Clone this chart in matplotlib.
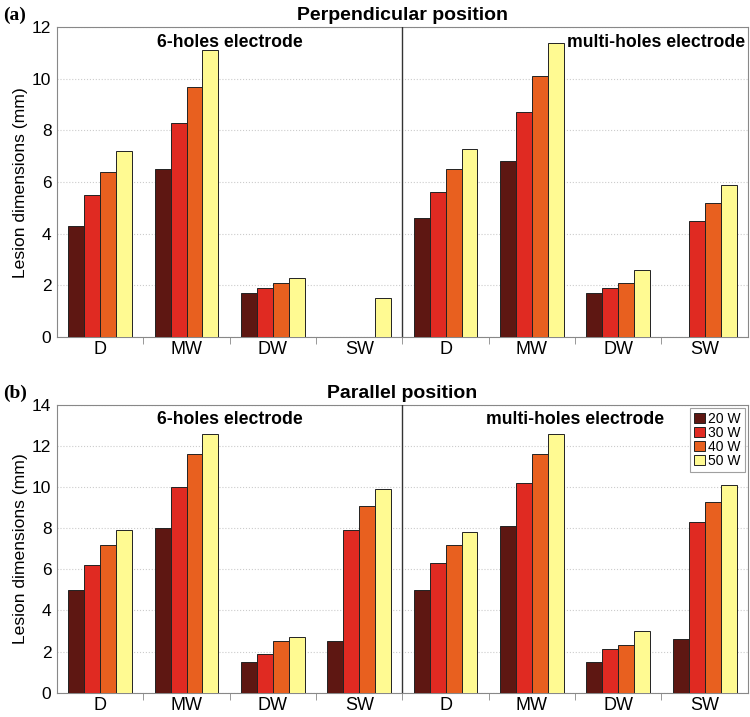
import numpy as np
import matplotlib.pyplot as plt

plt.rcParams['font.family'] = ['Liberation Sans', 'DejaVu Sans']

categories = ["D", "MW", "DW", "SW", "D", "MW", "DW", "SW"]
powers = ["20 W", "30 W", "40 W", "50 W"]
colors = ["#5e1712", "#e02a22", "#e8601f", "#fffa92"]

# perpendicular position: 6-holes (first 4) then multi-holes (last 4)
perp_20 = [4.3, 6.5, 1.7, 0.0, 4.6, 6.8, 1.7, 0.0]
perp_30 = [5.5, 8.3, 1.9, 0.0, 5.6, 8.7, 1.9, 4.5]
perp_40 = [6.4, 9.7, 2.1, 0.0, 6.5, 10.1, 2.1, 5.2]
perp_50 = [7.2, 11.1, 2.3, 1.5, 7.3, 11.4, 2.6, 5.9]

# parallel position
par_20 = [5.0, 8.0, 1.5, 2.5, 5.0, 8.1, 1.5, 2.6]
par_30 = [6.2, 10.0, 1.9, 7.9, 6.3, 10.2, 2.1, 8.3]
par_40 = [7.2, 11.6, 2.5, 9.1, 7.2, 11.6, 2.3, 9.3]
par_50 = [7.9, 12.6, 2.7, 9.9, 7.8, 12.6, 3.0, 10.1]

fig = plt.figure(figsize=(7.5, 7.17), dpi=100)
ax1 = fig.add_axes([0.076, 0.530, 0.921, 0.432])
ax2 = fig.add_axes([0.076, 0.034, 0.921, 0.401])


def draw_panel(ax, series, ymax, title, label):
    x = np.arange(len(categories))
    w = 0.185
    for i, vals in enumerate(series):
        ax.bar(x + (i - 1.5) * w, vals, w, color=colors[i],
               edgecolor="#222222", linewidth=0.7, label=powers[i], zorder=3)
    ax.set_xlim(-0.5, len(categories) - 0.5)
    ax.set_ylim(0, ymax)
    ax.set_yticks(np.arange(0, ymax + 1, 2))
    ax.set_xticks(x)
    ax.set_xticklabels(categories, fontsize=13)
    ax.set_xticks(np.arange(0.5, len(categories) - 0.5), minor=True)
    ax.tick_params(axis="x", which="major", length=0, pad=3)
    ax.tick_params(axis="x", which="minor", length=5, color="#888888",
                   direction="out")
    ax.tick_params(axis="y", labelsize=12.5, length=0, pad=4)
    ax.grid(axis="y", color="#cccccc", linestyle=":", linewidth=0.8, zorder=0)
    for s in ax.spines.values():
        s.set_color("#888888")
    ax.axvline(3.5, color="#333333", linewidth=1.0, zorder=4)
    ax.set_ylabel("Lesion dimensions (mm)", fontsize=12.6, labelpad=3)
    ax.text(0.5, 1.01, title, transform=ax.transAxes, ha="center",
            va="bottom", fontsize=14, fontweight="bold")
    ax.text(-0.078, 1.01, label, transform=ax.transAxes, ha="left",
            va="bottom", fontsize=14, fontweight="bold",
            family="Liberation Serif")


draw_panel(ax1, [perp_20, perp_30, perp_40, perp_50], 12,
           "Perpendicular position", "(a)")
ax1.text(1.5, 11.75, "6-holes electrode", ha="center", va="top",
         fontsize=12.7, fontweight="bold", zorder=5)
ax1.text(7.47, 11.75, "multi-holes electrode", ha="right", va="top",
         fontsize=12.7, fontweight="bold", zorder=5)

draw_panel(ax2, [par_20, par_30, par_40, par_50], 14,
           "Parallel position", "(b)")
ax2.text(1.5, 13.7, "6-holes electrode", ha="center", va="top",
         fontsize=12.7, fontweight="bold", zorder=5)
ax2.text(5.5, 13.7, "multi-holes electrode", ha="center", va="top",
         fontsize=12.7, fontweight="bold", zorder=5)
leg = ax2.legend(loc="upper right", fontsize=10, frameon=True,
                 fancybox=False, edgecolor="#888888", handlelength=0.75,
                 handleheight=0.75, handletextpad=0.25, labelspacing=0.0,
                 borderpad=0.3, borderaxespad=0.2,
                 bbox_to_anchor=(1.0, 1.0))
leg.get_frame().set_linewidth(0.8)

fig.savefig("out.png", dpi=100)
